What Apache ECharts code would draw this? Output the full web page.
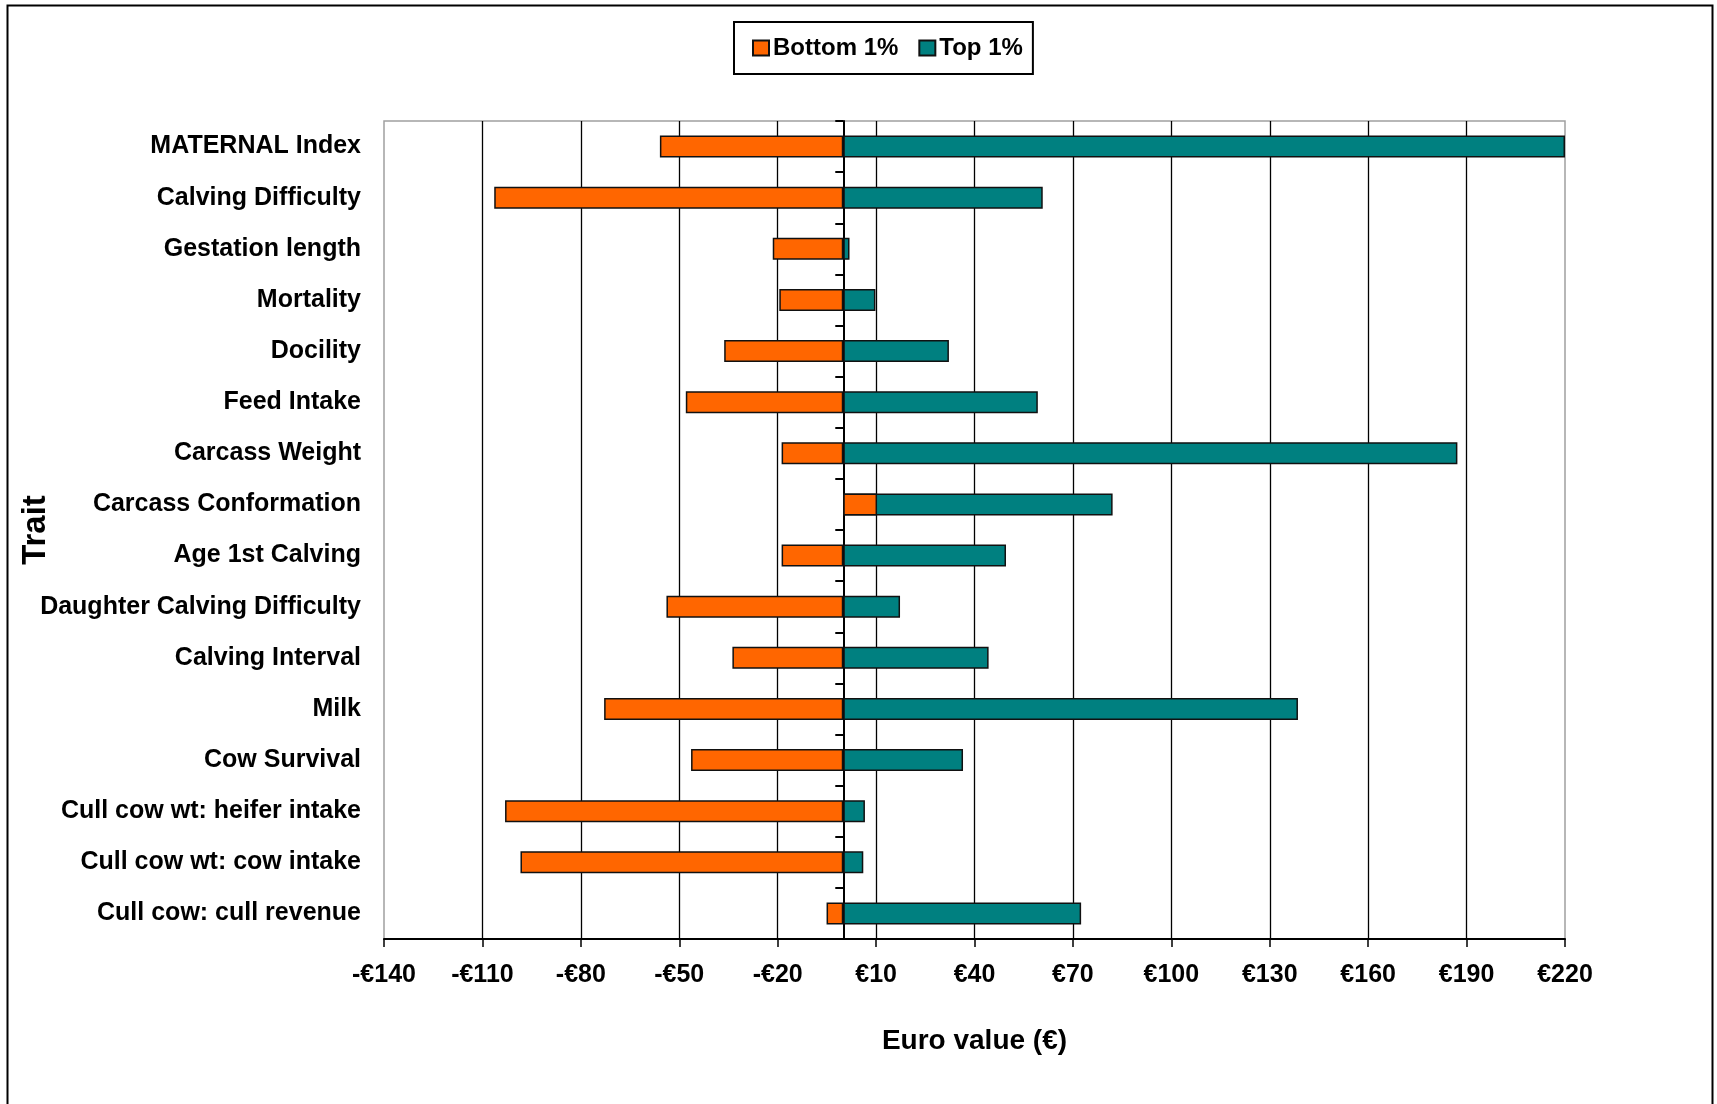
<!DOCTYPE html>
<html>
<head>
<meta charset="utf-8">
<title>Trait values: bottom 1% vs top 1%</title>
<script src="https://cdn.jsdelivr.net/npm/echarts@6/dist/echarts.min.js"></script>
<style>
  html, body { margin: 0; padding: 0; background: #fff; }
  #chart { width: 1717px; height: 1104px; }
</style>
</head>
<body>
<div id="chart"></div>
<script>
// Traits, top to bottom
const categories = [
  'MATERNAL Index',
  'Calving Difficulty',
  'Gestation length',
  'Mortality',
  'Docility',
  'Feed Intake',
  'Carcass Weight',
  'Carcass Conformation',
  'Age 1st Calving',
  'Daughter Calving Difficulty',
  'Calving Interval',
  'Milk',
  'Cow Survival',
  'Cull cow wt: heifer intake',
  'Cull cow wt: cow intake',
  'Cull cow: cull revenue'
];

// Euro value of the bottom 1% and top 1% animals for each trait
const bottom1 = [-55.9, -106.4, -21.5, -19.5, -36.3, -48.0, -18.8, 10.3, -18.8, -53.9, -33.8, -72.9, -46.4, -103.1, -98.4, -5.1];
const top1 = [220, 60.8, 1.9, 9.8, 32.2, 59.3, 187.2, 82.1, 49.6, 17.3, 44.3, 138.6, 36.5, 6.6, 6.1, 72.5];

// Value-axis tick labels
const xTicks = [-140, -110, -80, -50, -20, 10, 40, 70, 100, 130, 160, 190, 220];

const FONT = "'Liberation Sans', Arial, sans-serif";
const euro = v => (v < 0 ? '-€' + Math.abs(v) : '€' + v);

const chart = echarts.init(document.getElementById('chart'), null, { renderer: 'canvas' });

chart.setOption({
  backgroundColor: '#fff',
  animation: false,
  graphic: [{
    type: 'rect',
    shape: { x: 7.5, y: 5.5, width: 1705, height: 1120 },
    style: { fill: 'none', stroke: '#000', lineWidth: 2 },
    z: 100,
    silent: true
  }],
  legend: {
    orient: 'horizontal',
    left: 734,
    top: 22,
    padding: [14, 10, 14, 18],
    itemWidth: 16,
    itemHeight: 15,
    itemGap: 20,
    borderColor: '#000',
    borderWidth: 2,
    icon: 'rect',
    textStyle: { fontFamily: FONT, fontWeight: 'bold', fontSize: 24, color: '#000', padding: [0, 0, 0, -1] },
    data: ['Bottom 1%', 'Top 1%']
  },
  grid: {
    left: 384,
    top: 121,
    right: 152,
    bottom: 165,
    containLabel: false,
    outerBoundsMode: 'none',
    show: true,
    borderColor: '#a0a0a0',
    borderWidth: 1.5,
    backgroundColor: '#fff'
  },
  xAxis: {
    type: 'value',
    min: xTicks[0],
    max: xTicks[xTicks.length - 1],
    interval: xTicks[1] - xTicks[0],
    name: 'Euro value (€)',
    nameLocation: 'middle',
    nameGap: 88,
    nameMoveOverlap: false,
    nameTextStyle: { fontFamily: FONT, fontWeight: 'bold', fontSize: 28, color: '#000' },
    axisLine: { show: true, onZero: false, lineStyle: { color: '#000', width: 2 } },
    axisTick: { show: true, length: 8, lineStyle: { color: '#000', width: 1.5 } },
    axisLabel: {
      margin: 24,
      fontFamily: FONT,
      fontWeight: 'bold',
      fontSize: 25,
      color: '#000',
      formatter: euro
    },
    splitLine: {
      show: true,
      showMinLine: false,
      showMaxLine: false,
      lineStyle: { color: '#000', width: 1.3 }
    }
  },
  yAxis: [
    {
      type: 'category',
      data: categories,
      inverse: true,
      position: 'left',
      name: 'Trait',
      nameLocation: 'middle',
      nameRotate: 90,
      nameGap: 332,
      nameMoveOverlap: false,
      nameTextStyle: { fontFamily: FONT, fontWeight: 'bold', fontSize: 33, color: '#000' },
      axisLine: { show: false, onZero: false },
      axisTick: { show: false },
      axisLabel: {
        margin: 23,
        fontFamily: FONT,
        fontWeight: 'bold',
        fontSize: 25,
        color: '#000'
      },
      splitLine: { show: false }
    },
    {
      // zero line with category ticks pointing left
      type: 'category',
      data: categories,
      inverse: true,
      position: 'right',
      axisLine: { show: true, onZero: true, lineStyle: { color: '#000', width: 2 } },
      axisTick: { show: true, inside: true, length: 8, lineStyle: { color: '#000', width: 2 } },
      axisLabel: { show: false },
      splitLine: { show: false }
    }
  ],
  series: [
    {
      name: 'Top 1%',
      type: 'bar',
      yAxisIndex: 1,
      data: top1,
      barWidth: 22,
      barGap: '-100%',
      z: 2,
      itemStyle: { color: '#008080', borderColor: '#111', borderWidth: 1.5 }
    },
    {
      name: 'Bottom 1%',
      type: 'bar',
      yAxisIndex: 1,
      data: bottom1,
      barWidth: 22,
      barGap: '-100%',
      z: 3,
      itemStyle: { color: '#FF6600', borderColor: '#111', borderWidth: 1.5 }
    }
  ]
});
</script>
</body>
</html>
